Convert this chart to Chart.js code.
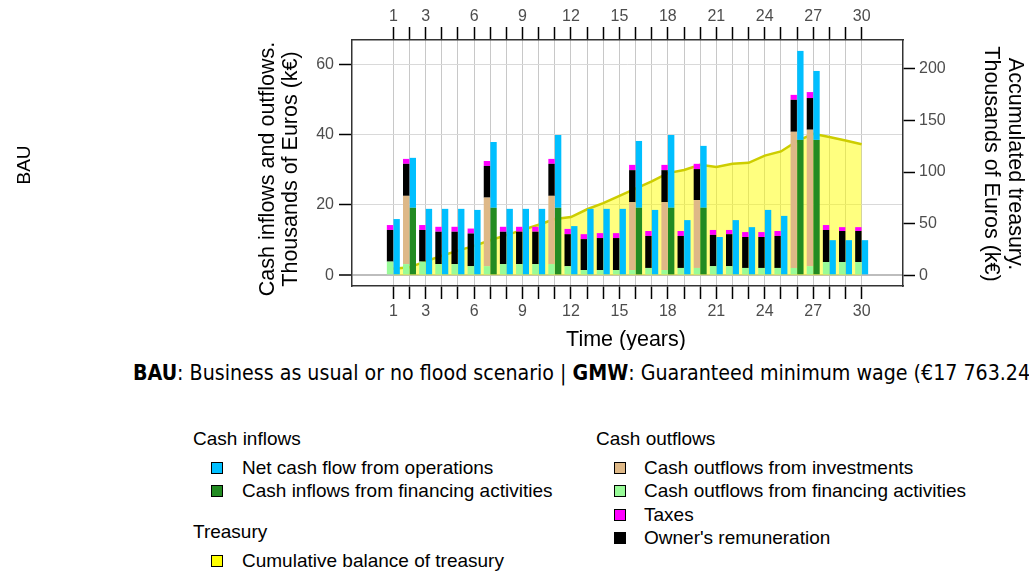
<!DOCTYPE html>
<html>
<head>
<meta charset="utf-8">
<script src="https://cdn.jsdelivr.net/npm/chart.js@4.4.1/dist/chart.umd.min.js"></script>
<style>
  body { margin: 0; background: #fff; width: 1029px; height: 573px; overflow: hidden; position: relative;
         font-family: "Liberation Sans", Arial, sans-serif; color: #000; }
  #chart { position: absolute; left: 0; top: 0; }
  .note { position: absolute; left: 133px; top: 360px; font-family: "DejaVu Sans Condensed", "DejaVu Sans", sans-serif;
          font-size: 21.2px; line-height: 26px; white-space: nowrap; }
  .lg { position: absolute; font-size: 19px; white-space: nowrap; line-height: 22px; }
  .sq { position: absolute; width: 10px; height: 10px; border: 1px solid #000; }
</style>
</head>
<body>
<canvas id="chart" width="1029" height="350"></canvas>

<div class="note"><b>BAU</b>: Business as usual or no flood scenario | <b>GMW</b>: Guaranteed minimum wage (€17 763.24 per year)</div>

<div class="lg" style="left:193px; top:428px">Cash inflows</div>
<div class="sq" style="left:211px; top:462px; background:#00bfff"></div>
<div class="lg" style="left:242px; top:457px">Net cash flow from operations</div>
<div class="sq" style="left:211px; top:485px; background:#228b22"></div>
<div class="lg" style="left:242px; top:480px">Cash inflows from financing activities</div>
<div class="lg" style="left:193px; top:521px">Treasury</div>
<div class="sq" style="left:211px; top:555px; background:#ffff00"></div>
<div class="lg" style="left:242px; top:550px">Cumulative balance of treasury</div>

<div class="lg" style="left:596px; top:428px">Cash outflows</div>
<div class="sq" style="left:614px; top:462px; background:#deb887"></div>
<div class="lg" style="left:644px; top:457px">Cash outflows from investments</div>
<div class="sq" style="left:614px; top:485px; background:#98fb98"></div>
<div class="lg" style="left:644px; top:480px">Cash outflows from financing activities</div>
<div class="sq" style="left:614px; top:509px; background:#ff00ff"></div>
<div class="lg" style="left:644px; top:504px">Taxes</div>
<div class="sq" style="left:614px; top:532px; background:#000000"></div>
<div class="lg" style="left:644px; top:527px">Owner's remuneration</div>

<script>
// years of the simulation
const years = [1, 2, 3, 4, 5, 6, 7, 8, 9, 10, 11, 12, 13, 14, 15, 16, 17, 18, 19, 20,
               21, 22, 23, 24, 25, 26, 27, 28, 29, 30];
const labelledYears = [1, 3, 6, 9, 12, 15, 18, 21, 24, 27, 30];

// cash outflows, k€ (stacked bottom to top)
const financingOut = [3.9, 3.2, 3.9, 3.2, 3.2, 2.6, 2.6, 3.2, 3.2, 3.2, 3.2, 2.6, 1.5, 1.5, 1.5,
                      1.5, 2.1, 1.5, 2.1, 2.1, 2.6, 2.6, 2.1, 2.1, 2.1, 2.1, 2.6, 3.8, 3.8, 3.8];
const investments = [0, 19.4, 0, 0, 0, 0, 19.5, 0, 0, 0, 19.4, 0, 0, 0, 0,
                     19.3, 0, 19.3, 0, 19.3, 0, 0, 0, 0, 0, 38.7, 38.8, 0, 0, 0];
const ownerPay = [9.0, 9.1, 9.0, 9.2, 9.2, 9.3, 9.0, 9.2, 9.2, 9.2, 9.1, 9.1, 8.8, 9.1, 9.1,
                  9.1, 9.1, 9.1, 9.1, 8.8, 8.9, 9.1, 8.8, 8.8, 9.1, 9.1, 9.0, 9.1, 8.8, 8.8];
const taxes = [1.4, 1.4, 1.4, 1.4, 1.4, 1.4, 1.4, 1.4, 1.4, 1.4, 1.4, 1.5, 1.4, 1.4, 1.4,
               1.5, 1.4, 1.5, 1.4, 1.5, 1.4, 1.2, 1.4, 1.4, 1.4, 1.4, 1.7, 1.4, 1.1, 1.1];

// cash inflows, k€ (stacked bottom to top)
const financingIn = [0, 19.2, 0, 0, 0, 0, 19.2, 0, 0, 0, 19.2, 0, 0, 0, 0,
                     19.2, 0, 19.2, 0, 19.2, 0, 0, 0, 0, 0, 38.5, 38.5, 0, 0, 0];
const operations = [16.0, 14.2, 18.9, 18.9, 18.9, 18.6, 18.7, 18.9, 18.9, 18.9, 20.7, 14.0, 18.9, 18.9, 18.9,
                    19.0, 18.6, 20.7, 15.7, 17.6, 10.9, 15.7, 13.7, 18.6, 16.9, 25.3, 19.6, 10.0, 10.0, 10.0];

// accumulated treasury, k€
const treasury = [6.3, 7.8, 13.5, 19, 24, 28.5, 34, 39, 44, 49, 54.5, 56.5, 64, 70, 77,
                  84, 91, 99, 102, 107, 105, 108, 109, 116, 120, 130, 137, 134, 130.5, 127];

const leftTicks = [0, 20, 40, 60];
const rightTicks = [0, 50, 100, 150, 200];

const pts = (vals) => years.map((yr, i) => ({ x: yr, y: vals[i] }));

const tickFont = { family: '"Liberation Sans", Arial, sans-serif', size: 16 };
const tickGrey = '#4d4d4d';
const frame = { display: true, color: '#333', width: 1.5 };

function bar(label, vals, color, stack) {
  return { type: 'bar', label, data: pts(vals), backgroundColor: color, borderWidth: 0,
           stack, yAxisID: 'y', categoryPercentage: 0.82, barPercentage: 0.96, order: 0 };
}

// axis titles and row label
const titles = {
  id: 'titles',
  afterDraw(chart) {
    const { ctx } = chart;
    ctx.save();
    ctx.fillStyle = '#000';
    ctx.textAlign = 'center';
    ctx.textBaseline = 'middle';

    ctx.font = '21.5px "Liberation Sans", Arial, sans-serif';
    ctx.fillText('Time (years)', 626, 340);

    ctx.save();
    ctx.translate(280, 169);
    ctx.rotate(-Math.PI / 2);
    ctx.fillText('Cash inflows and outflows.', 0, -11.5);
    ctx.fillText('Thousands of Euros (k€)', 0, 11.5);
    ctx.restore();

    ctx.save();
    ctx.translate(1003, 164);
    ctx.rotate(Math.PI / 2);
    ctx.fillText('Accumulated treasury.', 0, -12);
    ctx.fillText('Thousands of Euros (k€)', 0, 12);
    ctx.restore();

    ctx.font = '19px "Liberation Sans", Arial, sans-serif';
    ctx.save();
    ctx.translate(25, 165);
    ctx.rotate(-Math.PI / 2);
    ctx.fillText('BAU', 0, 0);
    ctx.restore();

    ctx.restore();
  }
};

const yearTicks = (scale) => { scale.ticks = years.map(v => ({ value: v })); };
const yearLabel = (v) => labelledYears.includes(v) ? String(v) : '';

new Chart(document.getElementById('chart'), {
  data: {
    datasets: [
      bar('Cash outflows from financing activities', financingOut, '#98fb98', 'out'),
      bar('Cash outflows from investments', investments, '#deb887', 'out'),
      bar("Owner's remuneration", ownerPay, '#000000', 'out'),
      bar('Taxes', taxes, '#ff00ff', 'out'),
      bar('Cash inflows from financing activities', financingIn, '#228b22', 'in'),
      bar('Net cash flow from operations', operations, '#00bfff', 'in'),
      {
        type: 'line', label: 'Cumulative balance of treasury', data: pts(treasury),
        yAxisID: 'y2', borderColor: '#cdcd00', borderWidth: 2.5,
        backgroundColor: 'rgba(255,255,0,0.5)', fill: 'origin',
        pointRadius: 0, tension: 0, order: 1
      }
    ]
  },
  options: {
    responsive: false,
    animation: false,
    events: [],
    layout: { padding: 0 },
    plugins: { legend: { display: false }, tooltip: { enabled: false } },
    scales: {
      x: {
        type: 'linear', position: 'bottom', min: -1.56, max: 32.56, offset: false,
        afterBuildTicks: yearTicks,
        afterFit: (s) => { s.height = 350 - 286; },
        ticks: { callback: yearLabel, autoSkip: false, maxRotation: 0, padding: 3, font: tickFont, color: tickGrey },
        grid: { offset: false, color: '#c8c8c8', lineWidth: 1, tickColor: '#000', tickWidth: 1.5, tickLength: 13 },
        border: frame
      },
      x2: {
        type: 'linear', position: 'top', min: -1.56, max: 32.56, offset: false,
        afterBuildTicks: yearTicks,
        afterFit: (s) => { s.height = 40; },
        ticks: { callback: yearLabel, autoSkip: false, maxRotation: 0, padding: 1, font: tickFont, color: tickGrey },
        grid: { offset: false, drawOnChartArea: false, tickColor: '#000', tickWidth: 1.5, tickLength: 13 },
        border: frame
      },
      y: {
        position: 'left', stacked: true, min: -3.03, max: 66.9,
        afterBuildTicks: (s) => { s.ticks = leftTicks.map(v => ({ value: v })); },
        afterFit: (s) => { s.width = 352; },
        ticks: { padding: 5, font: tickFont, color: tickGrey },
        grid: {
          color: (c) => c.tick && c.tick.value === 0 ? '#bdbdbd' : '#d9d9d9',
          lineWidth: (c) => c.tick && c.tick.value === 0 ? 2 : 1,
          tickColor: '#000', tickWidth: 1.5, tickLength: 13
        },
        border: frame
      },
      y2: {
        position: 'right', min: -10.3, max: 227.9,
        afterBuildTicks: (s) => { s.ticks = rightTicks.map(v => ({ value: v })); },
        afterFit: (s) => { s.width = 1029 - 903; },
        ticks: { padding: 4, font: tickFont, color: tickGrey },
        grid: { drawOnChartArea: false, tickColor: '#000', tickWidth: 1.5, tickLength: 12 },
        border: frame
      }
    }
  },
  plugins: [titles]
});
</script>
</body>
</html>
